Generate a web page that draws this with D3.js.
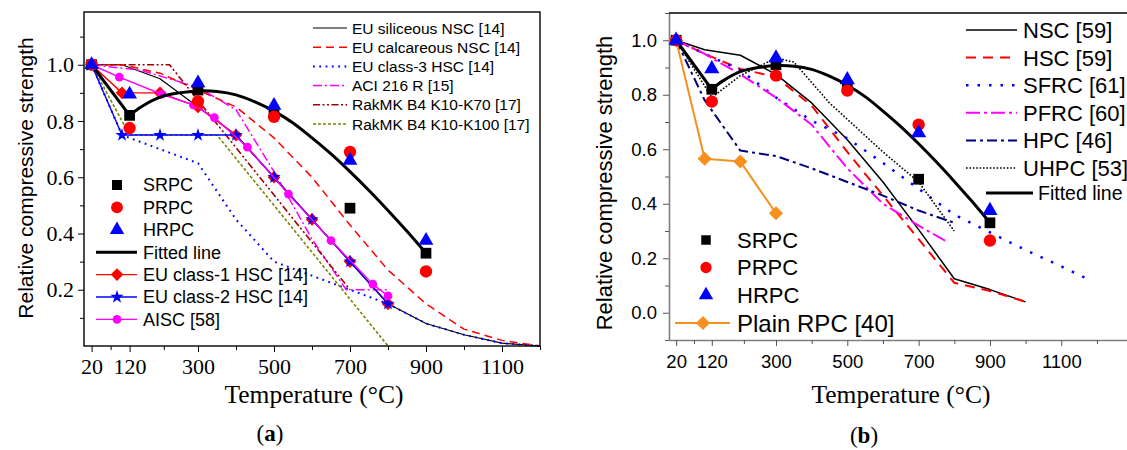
<!DOCTYPE html>
<html lang="en">
<head>
<meta charset="UTF-8">
<title>Relative compressive strength</title>
<script src="https://cdnjs.cloudflare.com/ajax/libs/d3/7.8.5/d3.min.js"></script>
<style>
  body { margin: 0; background: #fff; }
</style>
</head>
<body>
<div id="chart"></div>
<script>
// RPC test results (same in both panels)
const rpcTemps = [20, 120, 300, 500, 700, 900];
const srpcVals = [1.0, 0.82, 0.91, 0.83, 0.49, 0.33];
const prpcVals = [1.0, 0.775, 0.87, 0.815, 0.69, 0.265];
const hrpcVals = [1.0, 0.895, 0.935, 0.855, 0.66, 0.375];

// fitted line
const fitTemps = [20, 120, 150, 200, 250, 300, 350, 400, 450, 500, 550, 600, 650, 700, 750, 800, 850, 900];
const fitVals = [1.0, 0.82, 0.85, 0.885, 0.9, 0.907, 0.905, 0.893, 0.868, 0.835, 0.793, 0.74, 0.683, 0.62, 0.553, 0.482, 0.408, 0.33];

// panel (a) design codes
const euTemps = [20, 100, 200, 300, 400, 500, 600, 700, 800, 900, 1000, 1100, 1200];
const euSilVals = [1.0, 1.0, 0.95, 0.85, 0.75, 0.6, 0.45, 0.3, 0.15, 0.08, 0.04, 0.01, 0.0];
const euCalVals = [1.0, 1.0, 0.97, 0.91, 0.85, 0.74, 0.6, 0.43, 0.27, 0.15, 0.06, 0.02, 0.0];
const euC3Vals = [1.0, 0.75, 0.7, 0.65, 0.45, 0.3, 0.25, 0.2, 0.15, 0.08, 0.04, 0.01, 0.0];
const aciTemps = [20, 150, 300, 400, 500, 600, 690, 800];
const aciVals = [1.0, 0.98, 0.92, 0.84, 0.62, 0.38, 0.2, 0.2];
const rak70Temps = [20, 225, 700];
const rak70Vals = [1.0, 1.0, 0.2];
const rak100Temps = [20, 120, 350, 800];
const rak100Vals = [1.0, 0.75, 0.75, 0.0];
const hscTemps = [20, 100, 200, 300, 400, 500, 600, 700, 800];
const class1Vals = [1.0, 0.9, 0.9, 0.85, 0.75, 0.6, 0.45, 0.3, 0.15];
const class2Vals = [1.0, 0.75, 0.75, 0.75, 0.75, 0.6, 0.45, 0.3, 0.15];
const aiscTemps = [20, 93, 204, 288, 343, 430, 538, 650, 760, 800];
const aiscVals = [1.0, 0.956, 0.895, 0.857, 0.812, 0.707, 0.54, 0.375, 0.22, 0.178];

// panel (b) literature curves
const nscTemps = [20, 100, 200, 300, 400, 500, 600, 700, 800, 900, 1000];
const nscVals = [1.0, 0.965, 0.945, 0.875, 0.77, 0.635, 0.48, 0.305, 0.125, 0.085, 0.04];
const hscVals = [1.0, 0.95, 0.895, 0.865, 0.76, 0.59, 0.43, 0.27, 0.11, 0.08, 0.04];
const sfrcTemps = [20, 100, 200, 300, 400, 500, 600, 700, 800, 900, 1000, 1100, 1180];
const sfrcVals = [1.0, 0.95, 0.89, 0.79, 0.705, 0.64, 0.55, 0.455, 0.36, 0.295, 0.23, 0.17, 0.12];
const pfrcTemps = [20, 100, 200, 300, 400, 500, 600, 700, 780];
const pfrcVals = [1.0, 0.95, 0.875, 0.79, 0.69, 0.53, 0.4, 0.32, 0.26];
const hpcTemps = [20, 100, 200, 300, 400, 500, 600, 700, 800];
const hpcVals = [1.0, 0.78, 0.595, 0.575, 0.53, 0.48, 0.43, 0.375, 0.33];
const uhpcTemps = [20, 120, 200, 300, 350, 450, 500, 600, 700, 800];
const uhpcVals = [1.0, 0.79, 0.87, 0.935, 0.92, 0.77, 0.71, 0.59, 0.48, 0.3];
const plainTemps = [20, 100, 200, 300];
const plainVals = [1.0, 0.565, 0.555, 0.365];

// ticks
const xMajor = [20, 120, 300, 500, 700, 900, 1100];
const xMinor = [70, 210, 400, 600, 800, 1000, 1200];
const yMajorA = [0.2, 0.4, 0.6, 0.8, 1.0];
const yMinorA = [0.1, 0.3, 0.5, 0.7, 0.9, 1.1];
const yMajorB = [0.0, 0.2, 0.4, 0.6, 0.8, 1.0];
const yMinorB = [-0.1, 0.1, 0.3, 0.5, 0.7, 0.9, 1.1];

const SERIF = 'Liberation Serif, Times New Roman, serif';
const SANS = 'Liberation Sans, Arial, sans-serif';

const svg = d3.select('#chart').append('svg')
    .attr('width', 1127)
    .attr('height', 450);

// scales
const xA = d3.scaleLinear().domain([0, 1200]).range([84, 540]);
const yA = d3.scaleLinear().domain([0, 1.19]).range([346, 11.3]);
const xB = d3.scaleLinear().domain([0, 1300]).range([669, 1132.6]);
const yB = d3.scaleLinear().domain([-0.1, 1.1]).range([340, 13]);

function pts(t, v) { return d3.zip(t, v); }

function drawLine(g, x, y, t, v, color, width, dash, curve) {
    const line = d3.line().x(d => x(d[0])).y(d => y(d[1]));
    if (curve) line.curve(curve);
    g.append('path')
        .datum(pts(t, v))
        .attr('d', line)
        .attr('fill', 'none')
        .attr('stroke', color)
        .attr('stroke-width', width)
        .attr('stroke-dasharray', dash || null)
        .attr('stroke-linejoin', 'round');
}

function symPath(type, size) {
    if (type === 'diamond') return d3.symbol(d3.symbolSquare, size)();
    const map = { square: d3.symbolSquare, circle: d3.symbolCircle, triangle: d3.symbolTriangle, star: d3.symbolStar };
    return d3.symbol(map[type], size)();
}

function drawMarkers(g, x, y, t, v, type, size, color) {
    g.selectAll(null)
        .data(pts(t, v))
        .enter()
        .append('path')
        .attr('d', symPath(type, size))
        .attr('transform', d => `translate(${x(d[0])},${y(d[1])})` + (type === 'diamond' ? ' rotate(45)' : ''))
        .attr('fill', color);
}

function legendMarker(g, px, py, type, size, color) {
    g.append('path')
        .attr('d', symPath(type, size))
        .attr('transform', `translate(${px},${py})` + (type === 'diamond' ? ' rotate(45)' : ''))
        .attr('fill', color);
}

// ---------------- panel (a) ----------------
const ga = svg.append('g');

// ticks
ga.append('g').attr('transform', 'translate(0,346)')
    .call(d3.axisBottom(xA).tickValues(xMajor).tickSize(6).tickPadding(6).tickFormat(d3.format('d')).tickSizeOuter(0))
    .call(g => g.select('.domain').remove())
    .call(g => g.selectAll('text').attr('font-family', SERIF).attr('font-size', 22).attr('fill', '#000'));
ga.append('g').attr('transform', 'translate(0,346)')
    .call(d3.axisBottom(xA).tickValues(xMinor).tickSize(4).tickFormat('').tickSizeOuter(0))
    .call(g => g.select('.domain').remove());
ga.append('g').attr('transform', 'translate(84,0)')
    .call(d3.axisLeft(yA).tickValues(yMajorA).tickSize(6).tickPadding(4).tickFormat(d3.format('.1f')).tickSizeOuter(0))
    .call(g => g.select('.domain').remove())
    .call(g => g.selectAll('text').attr('font-family', SERIF).attr('font-size', 22).attr('fill', '#000'));
ga.append('g').attr('transform', 'translate(84,0)')
    .call(d3.axisLeft(yA).tickValues(yMinorA).tickSize(4).tickFormat('').tickSizeOuter(0))
    .call(g => g.select('.domain').remove());

// design curves
drawLine(ga, xA, yA, euTemps, euSilVals, '#000', 1.2);
drawLine(ga, xA, yA, euTemps, euCalVals, '#ff0000', 1.5, '8,5');
drawLine(ga, xA, yA, euTemps, euC3Vals, '#0000ff', 2, '1.8,4.5');
drawLine(ga, xA, yA, aciTemps, aciVals, '#ff00ff', 1.5, '9,3,2,3');
drawLine(ga, xA, yA, rak70Temps, rak70Vals, '#a00000', 1.6, '7,2.5,2,2.5,2,2.5');
drawLine(ga, xA, yA, rak100Temps, rak100Vals, '#808000', 1.6, '3,2');
drawLine(ga, xA, yA, hscTemps, class1Vals, '#ff0000', 1.4);
drawMarkers(ga, xA, yA, hscTemps, class1Vals, 'diamond', 80, '#ff0000');
drawLine(ga, xA, yA, hscTemps, class2Vals, '#0000ff', 1.4);
drawMarkers(ga, xA, yA, hscTemps, class2Vals, 'star', 55, '#0000ff');
drawLine(ga, xA, yA, aiscTemps, aiscVals, '#ff00ff', 1.4);
drawMarkers(ga, xA, yA, aiscTemps, aiscVals, 'circle', 60, '#ff00ff');

// fitted line: straight to 120, smooth afterwards
drawLine(ga, xA, yA, fitTemps.slice(0, 2), fitVals.slice(0, 2), '#000', 3);
drawLine(ga, xA, yA, fitTemps.slice(1), fitVals.slice(1), '#000', 3, null, d3.curveCatmullRom);

// test points
drawMarkers(ga, xA, yA, rpcTemps, srpcVals, 'square', 115, '#000');
drawMarkers(ga, xA, yA, rpcTemps, prpcVals, 'circle', 120, '#ff0000');
drawMarkers(ga, xA, yA, rpcTemps, hrpcVals, 'triangle', 95, '#0000ff');

// frame
ga.append('rect')
    .attr('x', 84).attr('y', 12)
    .attr('width', 456).attr('height', 334)
    .attr('fill', 'none').attr('stroke', '#000').attr('stroke-width', 1.4);

// top-right legend
const legA1 = [
    ['EU siliceous NSC [14]', '#000', null, 1.2],
    ['EU calcareous NSC [14]', '#ff0000', '8,5', 1.5],
    ['EU class-3 HSC [14]', '#0000ff', '1.8,4.5', 2],
    ['ACI 216 R [15]', '#ff00ff', '9,3,2,3', 1.5],
    ['RakMK B4 K10-K70 [17]', '#a00000', '7,2.5,2,2.5,2,2.5', 1.6],
    ['RakMK B4 K10-K100 [17]', '#808000', '3,2', 1.6]
];
legA1.forEach(function (d, i) {
    const ly = 28 + i * 19.2;
    ga.append('line').attr('x1', 313).attr('x2', 347).attr('y1', ly).attr('y2', ly)
        .attr('stroke', d[1]).attr('stroke-width', d[3]).attr('stroke-dasharray', d[2]);
    ga.append('text').attr('x', 352).attr('y', ly).attr('dy', '0.36em')
        .attr('font-family', SANS).attr('font-size', 15.5).text(d[0]);
});

// bottom-left legend
const legA2 = ['SRPC', 'PRPC', 'HRPC', 'Fitted line', 'EU class-1 HSC [14]', 'EU class-2 HSC [14]', 'AISC [58]'];
legA2.forEach(function (name, i) {
    const ly = 185 + i * 22.4;
    if (i === 0) legendMarker(ga, 117, ly, 'square', 100, '#000');
    if (i === 1) legendMarker(ga, 117, ly, 'circle', 110, '#ff0000');
    if (i === 2) legendMarker(ga, 117, ly, 'triangle', 90, '#0000ff');
    if (i >= 3) {
        const c = ['#000', '#ff0000', '#0000ff', '#ff00ff'][i - 3];
        ga.append('line').attr('x1', 96).attr('x2', 137).attr('y1', ly).attr('y2', ly)
            .attr('stroke', c).attr('stroke-width', i === 3 ? 3 : 1.4);
        if (i === 4) legendMarker(ga, 117, ly, 'diamond', 80, c);
        if (i === 5) legendMarker(ga, 117, ly, 'star', 55, c);
        if (i === 6) legendMarker(ga, 117, ly, 'circle', 60, c);
    }
    ga.append('text').attr('x', 143).attr('y', ly).attr('dy', '0.36em')
        .attr('font-family', SANS).attr('font-size', 18).text(name);
});

// axis titles
ga.append('text')
    .attr('transform', 'translate(33,178) rotate(-90)')
    .attr('text-anchor', 'middle')
    .attr('font-family', SANS).attr('font-size', 21)
    .text('Relative compressive strength');
ga.append('text')
    .attr('x', 314).attr('y', 403)
    .attr('text-anchor', 'middle')
    .attr('font-family', SERIF).attr('font-size', 25.5)
    .text('Temperature (°C)');
const capA = ga.append('text').attr('x', 270).attr('y', 441).attr('text-anchor', 'middle')
    .attr('font-family', SERIF).attr('font-size', 23);
capA.append('tspan').text('(');
capA.append('tspan').attr('font-weight', 'bold').text('a');
capA.append('tspan').text(')');

// ---------------- panel (b) ----------------
const gb = svg.append('g');

gb.append('g').attr('transform', 'translate(0,340)')
    .call(d3.axisBottom(xB).tickValues(xMajor).tickSize(6).tickPadding(9).tickFormat(d3.format('d')).tickSizeOuter(0))
    .call(g => g.select('.domain').attr('stroke', '#7f7f7f').attr('stroke-width', 1.6))
    .call(g => g.selectAll('line').attr('stroke', '#555'))
    .call(g => g.selectAll('text').attr('font-family', SANS).attr('font-size', 18.5).attr('fill', '#000'));
gb.append('g').attr('transform', 'translate(0,340)')
    .call(d3.axisBottom(xB).tickValues(xMinor).tickSize(4).tickFormat('').tickSizeOuter(0))
    .call(g => g.select('.domain').remove())
    .call(g => g.selectAll('line').attr('stroke', '#555'));
gb.append('g').attr('transform', 'translate(669,0)')
    .call(d3.axisLeft(yB).tickValues(yMajorB).tickSize(6).tickPadding(6).tickFormat(d3.format('.1f')).tickSizeOuter(0))
    .call(g => g.select('.domain').attr('stroke', '#7f7f7f').attr('stroke-width', 1.6))
    .call(g => g.selectAll('line').attr('stroke', '#555'))
    .call(g => g.selectAll('text').attr('font-family', SANS).attr('font-size', 18.5).attr('fill', '#000'));
gb.append('g').attr('transform', 'translate(669,0)')
    .call(d3.axisLeft(yB).tickValues(yMinorB).tickSize(4).tickFormat('').tickSizeOuter(0))
    .call(g => g.select('.domain').remove())
    .call(g => g.selectAll('line').attr('stroke', '#555'));
gb.append('line').attr('x1', 669).attr('x2', 1127).attr('y1', 13).attr('y2', 13)
    .attr('stroke', '#000').attr('stroke-width', 1.4);

// literature curves
drawLine(gb, xB, yB, nscTemps, nscVals, '#000', 1.5);
drawLine(gb, xB, yB, nscTemps, hscVals, '#ff0000', 2, '10,7');
drawLine(gb, xB, yB, sfrcTemps, sfrcVals, '#0000ff', 2.5, '2.5,9');
drawLine(gb, xB, yB, pfrcTemps, pfrcVals, '#ff00ff', 2, '14,4,3,4');
drawLine(gb, xB, yB, hpcTemps, hpcVals, '#000080', 2, '10,4,3,4');
drawLine(gb, xB, yB, uhpcTemps, uhpcVals, '#000', 1.6, '1.6,1.8');
drawLine(gb, xB, yB, fitTemps.slice(0, 2), fitVals.slice(0, 2), '#000', 3);
drawLine(gb, xB, yB, fitTemps.slice(1), fitVals.slice(1), '#000', 3, null, d3.curveCatmullRom);
drawLine(gb, xB, yB, plainTemps, plainVals, '#f7901e', 2);
drawMarkers(gb, xB, yB, plainTemps, plainVals, 'diamond', 100, '#f7901e');

drawMarkers(gb, xB, yB, rpcTemps, srpcVals, 'square', 115, '#000');
drawMarkers(gb, xB, yB, rpcTemps, prpcVals, 'circle', 120, '#ff0000');
drawMarkers(gb, xB, yB, rpcTemps, hrpcVals, 'triangle', 100, '#0000ff');

// top-right legend
const legB1 = [
    ['NSC [59]', '#000', null, 1.5],
    ['HSC [59]', '#ff0000', '10,7', 2],
    ['SFRC [61]', '#0000ff', '2.5,9', 2.5],
    ['PFRC [60]', '#ff00ff', '14,4,3,4', 2],
    ['HPC [46]', '#000080', '10,4,3,4', 2],
    ['UHPC [53]', '#000', '1.6,1.8', 1.6]
];
legB1.forEach(function (d, i) {
    const ly = 30 + i * 27.6;
    gb.append('line').attr('x1', 966).attr('x2', 1017).attr('y1', ly).attr('y2', ly)
        .attr('stroke', d[1]).attr('stroke-width', d[3]).attr('stroke-dasharray', d[2]);
    gb.append('text').attr('x', 1023).attr('y', ly).attr('dy', '0.36em')
        .attr('font-family', SANS).attr('font-size', 22).text(d[0]);
});
gb.append('line').attr('x1', 986).attr('x2', 1033).attr('y1', 193).attr('y2', 193)
    .attr('stroke', '#000').attr('stroke-width', 3);
gb.append('text').attr('x', 1038).attr('y', 193).attr('dy', '0.36em')
    .attr('font-family', SANS).attr('font-size', 19.5).text('Fitted line');

// bottom-left legend
const legB2 = ['SRPC', 'PRPC', 'HRPC'];
legendMarker(gb, 706, 240, 'square', 90, '#000');
legendMarker(gb, 706, 267.5, 'circle', 100, '#ff0000');
legendMarker(gb, 706, 295, 'triangle', 90, '#0000ff');
legB2.forEach(function (name, i) {
    gb.append('text').attr('x', 737).attr('y', 240 + i * 27.5).attr('dy', '0.36em')
        .attr('font-family', SANS).attr('font-size', 22).text(name);
});
gb.append('line').attr('x1', 675).attr('x2', 730).attr('y1', 323).attr('y2', 323)
    .attr('stroke', '#f7901e').attr('stroke-width', 2);
legendMarker(gb, 703, 323, 'diamond', 100, '#f7901e');
gb.append('text').attr('x', 737).attr('y', 323).attr('dy', '0.36em')
    .attr('font-family', SANS).attr('font-size', 24).text('Plain RPC [40]');

// axis titles
gb.append('text')
    .attr('transform', 'translate(612,183) rotate(-90)')
    .attr('text-anchor', 'middle')
    .attr('font-family', SANS).attr('font-size', 22)
    .text('Relative compressive strength');
gb.append('text')
    .attr('x', 901).attr('y', 403)
    .attr('text-anchor', 'middle')
    .attr('font-family', SERIF).attr('font-size', 25.5)
    .text('Temperature (°C)');
const capB = gb.append('text').attr('x', 864).attr('y', 443).attr('text-anchor', 'middle')
    .attr('font-family', SERIF).attr('font-size', 23);
capB.append('tspan').text('(');
capB.append('tspan').attr('font-weight', 'bold').text('b');
capB.append('tspan').text(')');
</script>
</body>
</html>
